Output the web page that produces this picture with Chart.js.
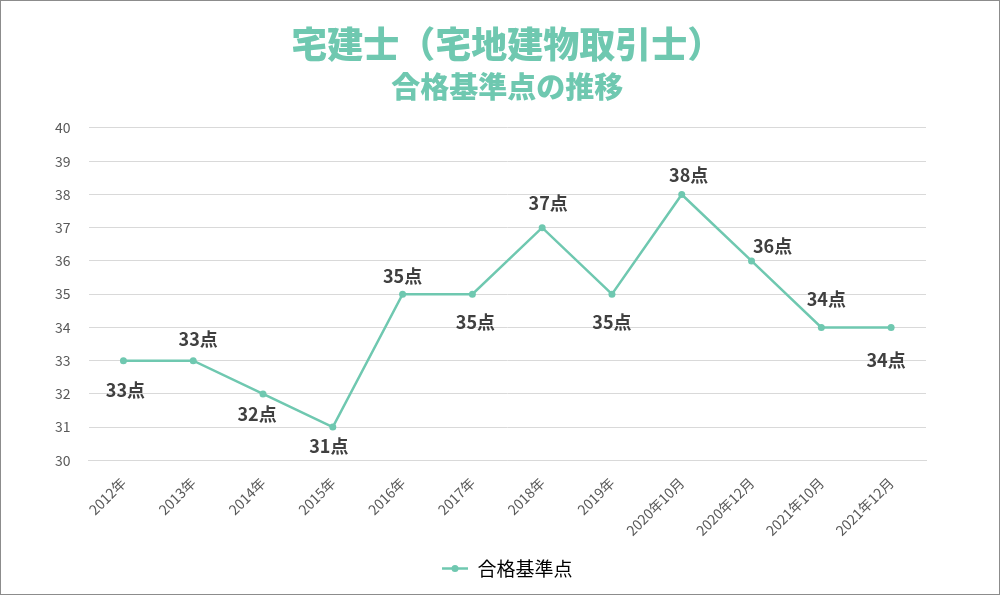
<!DOCTYPE html>
<html>
<head>
<meta charset="utf-8">
<script src="https://cdn.jsdelivr.net/npm/chart.js@4"></script>
<style>
  html, body { margin: 0; padding: 0; background: #fff; }
  #wrap { position: relative; width: 998px; height: 593px; border: 1px solid #8c8c8c; }
</style>
</head>
<body>
<div id="wrap"><canvas id="chart"></canvas></div>
<script>
'use strict';

// ── Data ─────────────────────────────────────────────────────────────────────

const categories = ['2012年', '2013年', '2014年', '2015年', '2016年', '2017年',
  '2018年', '2019年', '2020年10月', '2020年12月', '2021年10月', '2021年12月'];
const passScores = [33, 33, 32, 31, 35, 35, 37, 35, 38, 36, 34, 34];
const yTicks = [30, 31, 32, 33, 34, 35, 36, 37, 38, 39, 40];

// label nudges in px from each point (layout only)
const labelDx = [2, 5, -6, -4, 0, 3, 6, 0, 7, 21, 5, -5];
const labelDy = [30, -21, 20, 19, -18, 28, -25, 28, -19, -15, -28, 33];

const teal = '#6fc8b0';
const font = "'Noto Sans CJK JP', 'Noto Sans', sans-serif";

// ── Point labels + legend marker ─────────────────────────────────────────────

const pointLabels = {
  id: 'pointLabels',
  afterDatasetsDraw(chart) {
    const ctx = chart.ctx;
    const meta = chart.getDatasetMeta(0);
    ctx.save();
    ctx.font = `bold 18px ${font}`;
    ctx.fillStyle = '#404040';
    ctx.textAlign = 'center';
    ctx.textBaseline = 'middle';
    meta.data.forEach((pt, i) => {
      ctx.fillText(passScores[i] + '点', pt.x + labelDx[i], pt.y + labelDy[i]);
    });
    ctx.restore();
  },
  afterDraw(chart) {
    const box = chart.legend && chart.legend.legendHitBoxes[0];
    if (!box) return;
    const ctx = chart.ctx;
    const y = box.top + box.height / 2;
    ctx.save();
    ctx.strokeStyle = teal;
    ctx.lineWidth = 2.5;
    ctx.beginPath();
    ctx.moveTo(box.left, y);
    ctx.lineTo(box.left + 26, y);
    ctx.stroke();
    ctx.fillStyle = teal;
    ctx.beginPath();
    ctx.arc(box.left + 13, y, 3.5, 0, Math.PI * 2);
    ctx.fill();
    ctx.restore();
  }
};

// ── Chart ────────────────────────────────────────────────────────────────────

new Chart(document.getElementById('chart'), {
  type: 'line',
  data: {
    labels: categories,
    datasets: [{
      label: '合格基準点',
      data: passScores,
      borderColor: teal,
      backgroundColor: teal,
      borderWidth: 2.5,
      pointRadius: 3.5,
      pointBackgroundColor: teal,
      pointBorderWidth: 0,
      tension: 0
    }]
  },
  options: {
    responsive: true,
    maintainAspectRatio: false,
    animation: false,
    layout: { padding: { left: 36, right: 73, top: 0, bottom: 6 } },
    plugins: {
      title: {
        display: true,
        fullSize: false,
        text: '宅建士（宅地建物取引士）',
        color: teal,
        font: { family: font, size: 36, weight: 900 },
        padding: { top: 22, bottom: 0 }
      },
      subtitle: {
        display: true,
        fullSize: false,
        text: '合格基準点の推移',
        color: teal,
        font: { family: font, size: 29, weight: 900 },
        padding: { top: 3, bottom: 24 }
      },
      legend: {
        position: 'bottom',
        fullSize: false,
        labels: {
          color: '#595959',
          font: { family: font, size: 19 },
          boxWidth: 26,
          boxHeight: 0,
          padding: 14,
          generateLabels: chart => [{
            text: '合格基準点',
            fillStyle: 'rgba(0,0,0,0)',
            strokeStyle: 'rgba(0,0,0,0)',
            lineWidth: 0,
            datasetIndex: 0
          }]
        }
      },
      tooltip: { enabled: false }
    },
    scales: {
      x: {
        offset: true,
        grid: { display: false },
        border: { color: '#d9d9d9' },
        ticks: {
          color: '#595959',
          font: { family: font, size: 14 },
          minRotation: 45,
          maxRotation: 45,
          padding: 6
        }
      },
      y: {
        min: 30,
        max: 40,
        afterBuildTicks: axis => { axis.ticks = yTicks.map(v => ({ value: v })); },
        grid: { color: '#d9d9d9', drawTicks: false },
        border: { display: false },
        ticks: {
          color: '#595959',
          font: { family: font, size: 14 },
          padding: 18
        }
      }
    }
  },
  plugins: [pointLabels]
});
</script>
</body>
</html>
